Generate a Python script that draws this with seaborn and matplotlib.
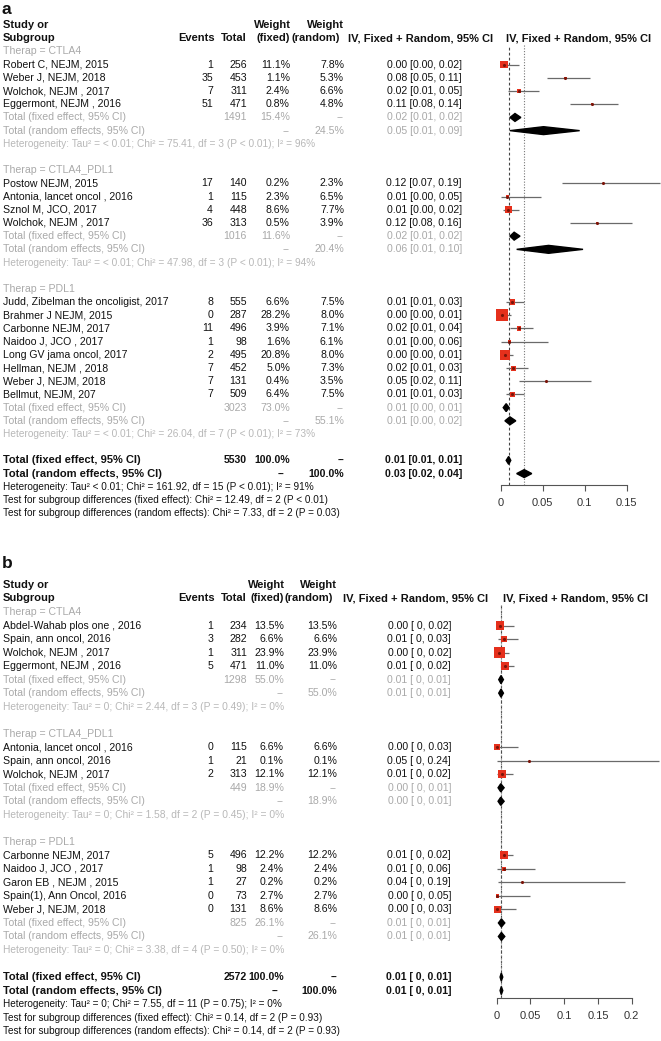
import matplotlib
matplotlib.use("Agg")
import matplotlib.pyplot as plt
from matplotlib.patches import Polygon
import seaborn as sns

# ---------------- panel a ----------------
a_groups = ["CTLA4", "CTLA4_PDL1", "PDL1"]
a_study = ["Robert C, NEJM, 2015", "Weber J, NEJM, 2018", "Wolchok, NEJM , 2017",
           "Eggermont, NEJM , 2016",
           "Postow NEJM, 2015", "Antonia, lancet oncol , 2016", "Sznol M, JCO, 2017",
           "Wolchok, NEJM , 2017",
           "Judd, Zibelman the oncoligist, 2017", "Brahmer J NEJM, 2015",
           "Carbonne NEJM, 2017", "Naidoo J, JCO , 2017", "Long GV jama oncol, 2017",
           "Hellman, NEJM , 2018", "Weber J, NEJM, 2018", "Bellmut, NEJM, 207"]
a_group = [0, 0, 0, 0, 1, 1, 1, 1, 2, 2, 2, 2, 2, 2, 2, 2]
a_events = [1, 35, 7, 51, 17, 1, 4, 36, 8, 0, 11, 1, 2, 7, 7, 7]
a_total = [256, 453, 311, 471, 140, 115, 448, 313, 555, 287, 496, 98, 495, 452, 131, 509]
a_w_fixed = [11.1, 1.1, 2.4, 0.8, 0.2, 2.3, 8.6, 0.5, 6.6, 28.2, 3.9, 1.6, 20.8, 5.0, 0.4, 6.4]
a_w_random = [7.8, 5.3, 6.6, 4.8, 2.3, 6.5, 7.7, 3.9, 7.5, 8.0, 7.1, 6.1, 8.0, 7.3, 3.5, 7.5]
a_ci_text = ["0.00 [0.00, 0.02]", "0.08 [0.05, 0.11]", "0.02 [0.01, 0.05]", "0.11 [0.08, 0.14]",
             "0.12 [0.07, 0.19]", "0.01 [0.00, 0.05]", "0.01 [0.00, 0.02]", "0.12 [0.08, 0.16]",
             "0.01 [0.01, 0.03]", "0.00 [0.00, 0.01]", "0.02 [0.01, 0.04]", "0.01 [0.00, 0.06]",
             "0.00 [0.00, 0.01]", "0.02 [0.01, 0.03]", "0.05 [0.02, 0.11]", "0.01 [0.01, 0.03]"]
a_est = [0.004, 0.077, 0.022, 0.109, 0.122, 0.008, 0.009, 0.115,
         0.014, 0.001, 0.022, 0.010, 0.005, 0.015, 0.054, 0.014]
a_lo = [0.001, 0.055, 0.009, 0.082, 0.073, 0.000, 0.003, 0.083,
        0.006, 0.000, 0.011, 0.000, 0.001, 0.006, 0.022, 0.006]
a_hi = [0.022, 0.106, 0.046, 0.140, 0.190, 0.048, 0.022, 0.156,
        0.028, 0.012, 0.039, 0.056, 0.015, 0.032, 0.108, 0.028]
a_sub_total = [1491, 1016, 3023]
a_sub_w_fixed = ["15.4%", "11.6%", "73.0%"]
a_sub_w_random = ["24.5%", "20.4%", "55.1%"]
a_sub_fixed_text = ["0.02 [0.01, 0.02]", "0.02 [0.01, 0.02]", "0.01 [0.00, 0.01]"]
a_sub_random_text = ["0.05 [0.01, 0.09]", "0.06 [0.01, 0.10]", "0.01 [0.00, 0.02]"]
a_sub_fixed = [(0.017, 0.011, 0.024), (0.016, 0.011, 0.023), (0.0065, 0.003, 0.010)]
a_sub_random = [(0.051, 0.011, 0.094), (0.057, 0.019, 0.098), (0.011, 0.005, 0.018)]
a_sub_het = ["Heterogeneity: Tau² = < 0.01; Chi² = 75.41, df = 3 (P < 0.01); I² = 96%",
             "Heterogeneity: Tau² = < 0.01; Chi² = 47.98, df = 3 (P < 0.01); I² = 94%",
             "Heterogeneity: Tau² = < 0.01; Chi² = 26.04, df = 7 (P < 0.01); I² = 73%"]
a_all_total = 5530
a_all_fixed = (0.0095, 0.0065, 0.012)
a_all_random = (0.028, 0.019, 0.037)
a_all_text = ["0.01 [0.01, 0.01]", "0.03 [0.02, 0.04]"]
a_footer = ["Heterogeneity: Tau² < 0.01; Chi² = 161.92, df = 15 (P < 0.01); I² = 91%",
            "Test for subgroup differences (fixed effect): Chi² = 12.49, df = 2 (P < 0.01)",
            "Test for subgroup differences (random effects): Chi² = 7.33, df = 2 (P = 0.03)"]
a_ticks = [0, 0.05, 0.1, 0.15]
a_tick_labels = ["0", "0.05", "0.1", "0.15"]

# ---------------- panel b ----------------
b_groups = ["CTLA4", "CTLA4_PDL1", "PDL1"]
b_study = ["Abdel-Wahab plos one , 2016", "Spain, ann oncol, 2016", "Wolchok, NEJM , 2017",
           "Eggermont, NEJM , 2016",
           "Antonia, lancet oncol , 2016", "Spain, ann oncol, 2016", "Wolchok, NEJM , 2017",
           "Carbonne NEJM, 2017", "Naidoo J, JCO , 2017", "Garon EB , NEJM , 2015",
           "Spain(1), Ann Oncol, 2016", "Weber J, NEJM, 2018"]
b_group = [0, 0, 0, 0, 1, 1, 1, 2, 2, 2, 2, 2]
b_events = [1, 3, 1, 5, 0, 1, 2, 5, 1, 1, 0, 0]
b_total = [234, 282, 311, 471, 115, 21, 313, 496, 98, 27, 73, 131]
b_w_fixed = [13.5, 6.6, 23.9, 11.0, 6.6, 0.1, 12.1, 12.2, 2.4, 0.2, 2.7, 8.6]
b_w_random = [13.5, 6.6, 23.9, 11.0, 6.6, 0.1, 12.1, 12.2, 2.4, 0.2, 2.7, 8.6]
b_ci_text = ["0.00 [ 0, 0.02]", "0.01 [ 0, 0.03]", "0.00 [ 0, 0.02]", "0.01 [ 0, 0.02]",
             "0.00 [ 0, 0.03]", "0.05 [ 0, 0.24]", "0.01 [ 0, 0.02]",
             "0.01 [ 0, 0.02]", "0.01 [ 0, 0.06]", "0.04 [ 0, 0.19]", "0.00 [ 0, 0.05]",
             "0.00 [ 0, 0.03]"]
b_est = [0.005, 0.011, 0.0035, 0.012, 0.0005, 0.048, 0.0074, 0.011, 0.011, 0.038, 0.001, 0.001]
b_lo = [0.000, 0.002, 0.000, 0.006, 0.000, 0.000, 0.001, 0.005, 0.001, 0.0015, 0.000, 0.000]
b_hi = [0.025, 0.032, 0.018, 0.025, 0.032, 0.240, 0.024, 0.024, 0.056, 0.190, 0.049, 0.028]
b_sub_total = [1298, 449, 825]
b_sub_w_fixed = ["55.0%", "18.9%", "26.1%"]
b_sub_w_random = ["55.0%", "18.9%", "26.1%"]
b_sub_fixed_text = ["0.01 [ 0, 0.01]", "0.00 [ 0, 0.01]", "0.01 [ 0, 0.01]"]
b_sub_random_text = ["0.01 [ 0, 0.01]", "0.00 [ 0, 0.01]", "0.01 [ 0, 0.01]"]
b_sub_fixed = [(0.0064, 0.003, 0.010), (0.006, 0.002, 0.011), (0.007, 0.0025, 0.012)]
b_sub_random = [(0.0064, 0.003, 0.010), (0.006, 0.002, 0.011), (0.007, 0.0025, 0.012)]
b_sub_het = ["Heterogeneity: Tau² = 0; Chi² = 2.44, df = 3 (P = 0.49); I² = 0%",
             "Heterogeneity: Tau² = 0; Chi² = 1.58, df = 2 (P = 0.45); I² = 0%",
             "Heterogeneity: Tau² = 0; Chi² = 3.38, df = 4 (P = 0.50); I² = 0%"]
b_all_total = 2572
b_all_fixed = (0.0068, 0.005, 0.009)
b_all_random = (0.0068, 0.005, 0.009)
b_all_text = ["0.01 [ 0, 0.01]", "0.01 [ 0, 0.01]"]
b_footer = ["Heterogeneity: Tau² = 0; Chi² = 7.55, df = 11 (P = 0.75); I² = 0%",
            "Test for subgroup differences (fixed effect): Chi² = 0.14, df = 2 (P = 0.93)",
            "Test for subgroup differences (random effects): Chi² = 0.14, df = 2 (P = 0.93)"]
b_ticks = [0, 0.05, 0.1, 0.15, 0.2]
b_tick_labels = ["0", "0.05", "0.1", "0.15", "0.2"]

W, H = 661, 1041
GREY = "#a9a9a9"
LIGHT = "#b8b8b8"
RED = "#e5301c"
FS = 7.6


def draw_panel(fig, d, lay):
    """Table text on the left, forest plot on the right."""
    y0, dy = lay["y0"], lay["dy"]
    c = lay["cols"]

    def put(px, row, s, py=None, **kw):
        ypx = py if py is not None else y0 + dy * row
        kw.setdefault("fontsize", FS)
        kw.setdefault("color", "#111111")
        fig.text(px / W, 1 - ypx / H, s, va="center", **kw)

    # headers
    put(2, 0, lay["letter"], py=lay["letter_y"], fontsize=12.5, fontweight="bold")
    put(3, -2, "Study or", fontweight="bold", fontsize=8)
    put(3, -1, "Subgroup", fontweight="bold", fontsize=8)
    put(c["events"] + 2, -1, "Events", ha="right", fontweight="bold", fontsize=8)
    put(c["total"], -1, "Total", ha="right", fontweight="bold", fontsize=8)
    put(c["wf"] + 1, -2, "Weight", ha="right", fontweight="bold", fontsize=8)
    put(c["wf"], -1, "(fixed)", ha="right", fontweight="bold", fontsize=8)
    put(c["wr"], -2, "Weight", ha="right", fontweight="bold", fontsize=8)
    put(c["wr"] - 4, -1, "(random)", ha="right", fontweight="bold", fontsize=8)
    put(c["head1"], -1, "IV, Fixed + Random, 95% CI", fontweight="bold", fontsize=8)
    put(c["head2"], -1, "IV, Fixed + Random, 95% CI", fontweight="bold", fontsize=8)

    study_rows, sub_rows = [], []
    r = 0
    for g, name in enumerate(d["groups"]):
        put(3, r, "Therap = " + name, color=GREY)
        r += 1
        for i in [k for k, gg in enumerate(d["group"]) if gg == g]:
            put(3, r, d["study"][i])
            put(c["events"], r, str(d["events"][i]), ha="right")
            put(c["total"], r, str(d["total"][i]), ha="right")
            put(c["wf"], r, f"{d['w_fixed'][i]:.1f}%", ha="right")
            put(c["wr"], r, f"{d['w_random'][i]:.1f}%", ha="right")
            put(c["ci"], r, d["ci_text"][i], ha="right")
            study_rows.append(r)
            r += 1
        put(3, r, "Total (fixed effect, 95% CI)", color=GREY)
        put(c["total"], r, str(d["sub_total"][g]), ha="right", color=GREY)
        put(c["wf"], r, d["sub_w_fixed"][g], ha="right", color=GREY)
        put(c["wr"], r, "--", ha="right", color=GREY)
        put(c["ci"], r, d["sub_fixed_text"][g], ha="right", color=GREY)
        put(3, r + 1, "Total (random effects, 95% CI)", color=GREY)
        put(c["wf"], r + 1, "--", ha="right", color=GREY)
        put(c["wr"], r + 1, d["sub_w_random"][g], ha="right", color=GREY)
        put(c["ci"], r + 1, d["sub_random_text"][g], ha="right", color=GREY)
        put(3, r + 2, d["sub_het"][g], color=LIGHT, fontsize=lay["het_fs"])
        sub_rows.append(r)
        r += 4

    all_row = r
    put(3, r, "Total (fixed effect, 95% CI)", fontweight="bold", fontsize=8)
    put(c["total"], r, str(d["all_total"]), ha="right", fontweight="bold")
    put(c["wf"], r, "100.0%", ha="right", fontweight="bold")
    put(c["wr"], r, "--", ha="right", fontweight="bold")
    put(c["ci"], r, d["all_text"][0], ha="right", fontweight="bold")
    put(3, r + 1, "Total (random effects, 95% CI)", fontweight="bold", fontsize=8)
    put(c["wf"] - 6, r + 1, "--", ha="right", fontweight="bold")
    put(c["wr"], r + 1, "100.0%", ha="right", fontweight="bold")
    put(c["ci"], r + 1, d["all_text"][1], ha="right", fontweight="bold")
    for k, line in enumerate(d["footer"]):
        put(3, r + 2 + k, line, fontsize=7.2)

    # forest plot axes, rows as data units
    x_left, x_right, axis_px = lay["ax_x"][0], lay["ax_x"][1], lay["axis_px"]
    top_px = y0 - 0.5 * dy
    ax = fig.add_axes([x_left / W, 1 - axis_px / H, (x_right - x_left) / W,
                       (axis_px - top_px) / H])
    ax.patch.set_alpha(0)
    ax.set_xlim(*lay["xlim"])
    ax.set_ylim((axis_px - y0) / dy, -0.5)

    ax.axvline(d["all_fixed"][0], color="#444444", lw=0.8, ls=(0, (2.5, 2)), zorder=1)
    ax.axvline(d["all_random"][0], color="#777777", lw=0.8, ls=(0, (1, 1.5)), zorder=1)

    ax.hlines(study_rows, d["lo"], d["hi"], color="#6a6a6a", lw=0.9, zorder=2)
    sns.scatterplot(x=d["est"], y=study_rows, size=d["w_fixed"], sizes=(0, 80),
                    size_norm=(0, 30), marker="s", color=RED, linewidth=0,
                    legend=False, ax=ax, zorder=3)
    sns.scatterplot(x=d["est"], y=study_rows, s=5, color="#7a1408", linewidth=0,
                    legend=False, ax=ax, zorder=4)

    def diamond(est, lo, hi, row, h=0.3):
        ax.add_patch(Polygon([(lo, row), (est, row - h), (hi, row), (est, row + h)],
                             closed=True, color="black", zorder=4))

    for g, row in enumerate(sub_rows):
        diamond(*d["sub_fixed"][g], row)
        diamond(*d["sub_random"][g], row + 1)
    diamond(*d["all_fixed"], all_row)
    diamond(*d["all_random"], all_row + 1)

    for side in ["top", "left", "right"]:
        ax.spines[side].set_visible(False)
    ax.spines["bottom"].set_visible(True)
    ax.spines["bottom"].set_color("#555555")
    ax.spines["bottom"].set_linewidth(0.8)
    ax.spines["bottom"].set_bounds(d["ticks"][0], d["ticks"][-1])
    ax.set_yticks([])
    ax.set_xticks(d["ticks"])
    ax.set_xticklabels(d["tick_labels"])
    ax.tick_params(axis="x", bottom=True, direction="out", length=4.5, width=0.8,
                   color="#555555", labelsize=8, labelcolor="#333333", pad=5)
    ax.set_xlabel("")
    ax.set_ylabel("")


sns.set_style("white")
plt.rcParams["font.family"] = ["Liberation Sans", "DejaVu Sans"]

panel_a = dict(groups=a_groups, study=a_study, group=a_group, events=a_events,
               total=a_total, w_fixed=a_w_fixed, w_random=a_w_random, ci_text=a_ci_text,
               est=a_est, lo=a_lo, hi=a_hi, sub_total=a_sub_total,
               sub_w_fixed=a_sub_w_fixed, sub_w_random=a_sub_w_random,
               sub_fixed_text=a_sub_fixed_text, sub_random_text=a_sub_random_text,
               sub_fixed=a_sub_fixed, sub_random=a_sub_random, sub_het=a_sub_het,
               all_total=a_all_total, all_fixed=a_all_fixed, all_random=a_all_random,
               all_text=a_all_text, footer=a_footer, ticks=a_ticks,
               tick_labels=a_tick_labels)
panel_b = dict(groups=b_groups, study=b_study, group=b_group, events=b_events,
               total=b_total, w_fixed=b_w_fixed, w_random=b_w_random, ci_text=b_ci_text,
               est=b_est, lo=b_lo, hi=b_hi, sub_total=b_sub_total,
               sub_w_fixed=b_sub_w_fixed, sub_w_random=b_sub_w_random,
               sub_fixed_text=b_sub_fixed_text, sub_random_text=b_sub_random_text,
               sub_fixed=b_sub_fixed, sub_random=b_sub_random, sub_het=b_sub_het,
               all_total=b_all_total, all_fixed=b_all_fixed, all_random=b_all_random,
               all_text=b_all_text, footer=b_footer, ticks=b_ticks,
               tick_labels=b_tick_labels)

layout_a = dict(letter="a", letter_y=9, y0=51.5, dy=13.19, axis_px=485, het_fs=7.3,
                ax_x=(480, 661), xlim=((480 - 500.7) / 840, (661 - 500.7) / 840),
                cols=dict(events=213, total=247, wf=290, wr=344, ci=462,
                          head1=348, head2=506))
layout_b = dict(letter="b", letter_y=563, y0=612, dy=13.52, axis_px=998, het_fs=7.4,
                ax_x=(480, 661), xlim=((480 - 496.7) / 675, (661 - 496.7) / 675),
                cols=dict(events=213, total=247, wf=284, wr=337, ci=451,
                          head1=343, head2=503))

fig = plt.figure(figsize=(W / 100, H / 100), dpi=100)
draw_panel(fig, panel_a, layout_a)
draw_panel(fig, panel_b, layout_b)
fig.savefig("out.png", dpi=100, facecolor="white")
